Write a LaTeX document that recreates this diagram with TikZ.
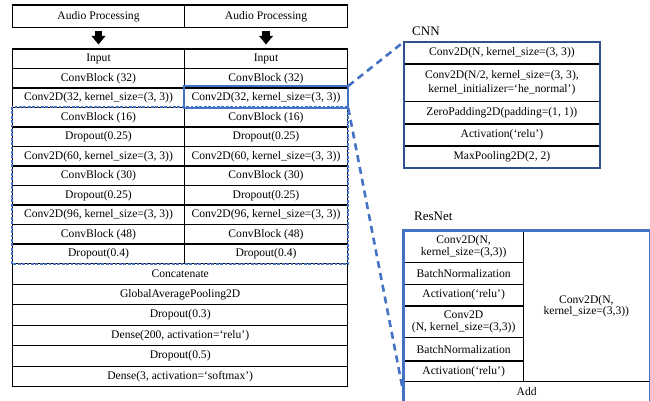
\documentclass[tikz,border=0pt]{standalone}
\usepackage{fontspec}
\setmainfont{Liberation Serif}
\usetikzlibrary{arrows.meta}
\definecolor{accentblue}{RGB}{68,114,196}
\definecolor{navyblue}{RGB}{47,82,143}
\begin{document}
\begin{tikzpicture}[x=1pt,y=-1pt,
  cell/.style={draw=black, line width=1.1pt, inner sep=0pt, align=center,
    font=\fontsize{11.6}{13.3}\selectfont},
  tightcell/.style={cell, font=\fontsize{11.6}{11.5}\selectfont},
  title/.style={anchor=west, inner sep=0pt, font=\fontsize{13}{15}\selectfont},
  flow/.style={line width=7.6pt, -{Triangle[length=8.5pt,width=14pt,line width=0pt]},
    shorten <=2.3pt, shorten >=4pt},
  link/.style={accentblue, line width=2.6pt, dash pattern=on 7pt off 5pt},
  group/.style={accentblue, line width=2.4pt, dash pattern=on 2.8pt off 1.6pt}]
\useasboundingbox (0,0) rectangle (650,401);

% two parallel branches
\node[cell, minimum width=171.6pt, minimum height=22.7pt] (L0) at (98.5,16.35) {Audio Processing};
\node[cell, minimum width=163.4pt, minimum height=22.7pt] (R0) at (266,16.35) {Audio Processing};
\foreach \txt [count=\i] in {Input, {ConvBlock (32)}, {Conv2D(32, kernel\_size=(3, 3))},
    {ConvBlock (16)}, {Dropout(0.25)}, {Conv2D(60, kernel\_size=(3, 3))}, {ConvBlock (30)},
    {Dropout(0.25)}, {Conv2D(96, kernel\_size=(3, 3))}, {ConvBlock (48)}, {Dropout(0.4)}} {
  \node[cell, minimum width=171.6pt, minimum height=19.5pt] (L\i) at (98.5,39.25+19.5*\i) {\txt};
  \node[cell, minimum width=163.4pt, minimum height=19.5pt] (R\i) at (266,39.25+19.5*\i) {\txt};
}
\draw[flow] (L0) -- (L1);
\draw[flow] (R0) -- (R1);

% merged head
\foreach \txt [count=\j] in {Concatenate, GlobalAveragePooling2D, {Dropout(0.3)},
    {Dense(200, activation=‘relu’)}, {Dropout(0.5)}, {Dense(3, activation=‘softmax’)}} {
  \node[cell, minimum width=335pt, minimum height=20.55pt] (M\j) at (180.2,253.225+20.55*\j) {\txt};
}

% repeated convolutional section and highlighted layer
\draw[group] (L4.north west) rectangle (R11.south east);
\draw[accentblue, line width=2pt] ([yshift=1.5pt]R3.north west) rectangle (R3.south east);

% CNN block detail
\node[title] (cnnt) at (412,31.7) {CNN};
\node[cell, minimum width=194.8pt, minimum height=21.7pt] (C1) at (501.9,53.15) {Conv2D(N, kernel\_size=(3, 3))};
\node[cell, minimum width=194.8pt, minimum height=37.7pt] (C2) at (501.9,82.85)
  {Conv2D(N/2, kernel\_size=(3, 3),\\kernel\_initializer=‘he\_normal’)};
\node[cell, minimum width=194.8pt, minimum height=22.3pt] (C3) at (501.9,112.85) {ZeroPadding2D(padding=(1, 1))};
\node[cell, minimum width=194.8pt, minimum height=22pt] (C4) at (501.9,135) {Activation(‘relu’)};
\node[cell, minimum width=194.8pt, minimum height=21.7pt] (C5) at (501.9,156.85) {MaxPooling2D(2, 2)};
\draw[navyblue, line width=2.2pt] (C1.north west) rectangle (C5.south east);

% ResNet block detail
\node[title] (rest) at (414,216.7) {ResNet};
\node[tightcell, minimum width=119.3pt, minimum height=31.7pt] (N1) at (463.65,246.85) {Conv2D(N,\\kernel\_size=(3,3))};
\node[cell, minimum width=119.3pt, minimum height=21.6pt] (N2) at (463.65,273.5) {BatchNormalization};
\node[cell, minimum width=119.3pt, minimum height=21.7pt] (N3) at (463.65,295.15) {Activation(‘relu’)};
\node[tightcell, minimum width=119.3pt, minimum height=31.3pt] (N4) at (463.65,321.65) {Conv2D\\(N, kernel\_size=(3,3))};
\node[cell, minimum width=119.3pt, minimum height=23.7pt] (N5) at (463.65,349.15) {BatchNormalization};
\node[cell, minimum width=119.3pt, minimum height=20.7pt] (N6) at (463.65,371.35) {Activation(‘relu’)};
\node[tightcell, minimum width=126pt, minimum height=150.7pt] (NR) at (586.3,306.35) {Conv2D(N,\\kernel\_size=(3,3))};
\node[cell, minimum width=245.3pt, minimum height=20.3pt] (Add) at (526.65,391.85) {Add};
\draw[accentblue, line width=2.2pt] (N1.north west) rectangle (Add.south east);

% zoom connectors
\coordinate (resend) at (404,396);
\draw[link] ([yshift=1.5pt]R3.north east) -- (C1.north west);
\draw[link] (R3.south east) -- (resend);
\end{tikzpicture}
\end{document}
